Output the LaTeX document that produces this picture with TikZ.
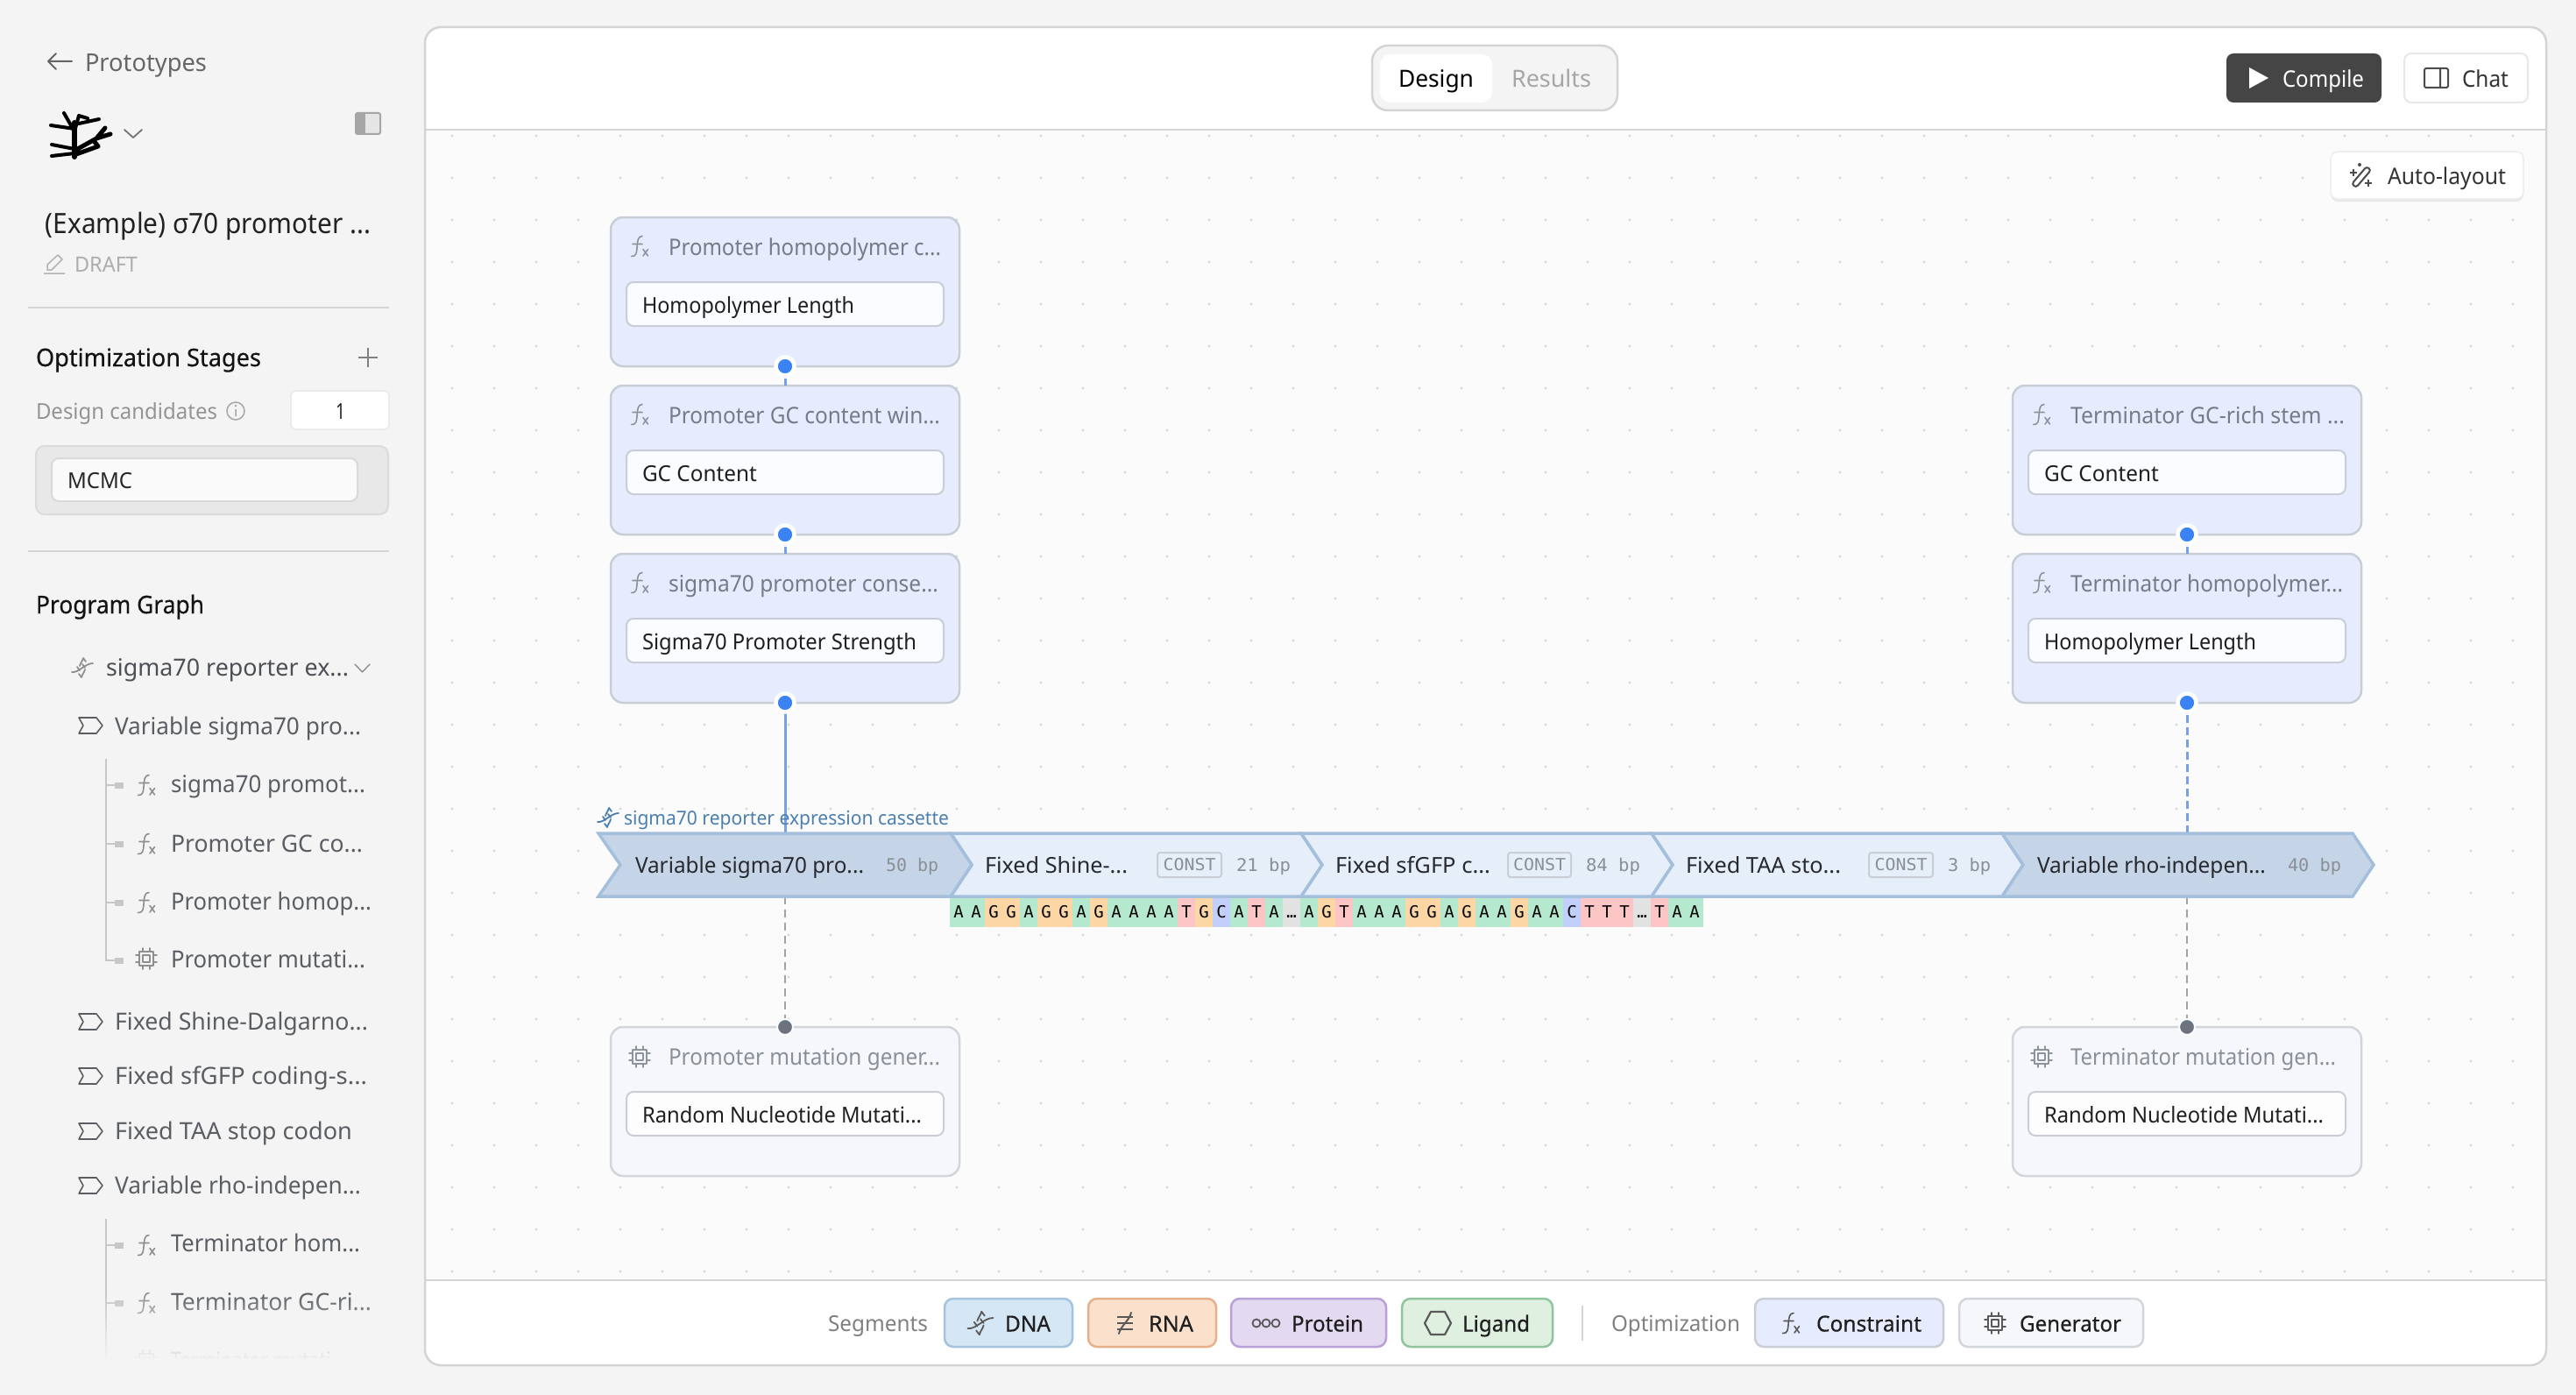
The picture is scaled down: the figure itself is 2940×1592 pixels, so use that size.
\documentclass[tikz,border=0pt]{standalone}
\usepackage{fontspec}
\usepackage{graphicx}
\usetikzlibrary{fadings}
\setmainfont{Noto Sans}
\newfontfamily\medf[FakeBold=0.35]{Noto Sans}
\newfontfamily\monof{DejaVu Sans Mono}
\newcommand\fs[1]{\fontsize{#1}{#1}\selectfont}
\definecolor{sidebar}{HTML}{F4F4F4}
\definecolor{canvasbg}{HTML}{FBFBFB}
\definecolor{linec}{HTML}{D3D5D5}
\definecolor{griddot}{HTML}{D6D8DB}
\definecolor{cardfill}{HTML}{E6ECFD}
\definecolor{cardline}{HTML}{C9CED6}
\definecolor{genfill}{HTML}{F5F7FA}
\definecolor{genline}{HTML}{D2D5D9}
\definecolor{headtxt}{HTML}{757C87}
\definecolor{icn}{HTML}{8E949C}
\definecolor{segline}{HTML}{A3BFDC}
\definecolor{varfill}{HTML}{C5D5E7}
\definecolor{fixfill}{HTML}{E6EEF9}
\definecolor{monotxt}{HTML}{8A8F96}
\definecolor{segtxt}{HTML}{27292E}
\definecolor{caslabel}{HTML}{4A7FB0}
\definecolor{bluedot}{HTML}{3B82F6}
\definecolor{bluecn}{HTML}{76A1E6}
\definecolor{greydot}{HTML}{6B7280}
\definecolor{greycn}{HTML}{A0A3A8}
\definecolor{seqA}{HTML}{B4E8CF}
\definecolor{seqG}{HTML}{FDD6A5}
\definecolor{seqT}{HTML}{FCC5C5}
\definecolor{seqC}{HTML}{C2CFFB}
\definecolor{seqD}{HTML}{E2E2E2}
\definecolor{treetxt}{HTML}{5A5E63}
\definecolor{treeic}{HTML}{8F8F8F}
\definecolor{dnaF}{HTML}{D5E6F4}
\definecolor{dnaL}{HTML}{A5C3DF}
\definecolor{rnaF}{HTML}{FBE1CC}
\definecolor{rnaL}{HTML}{E6B08A}
\definecolor{protF}{HTML}{E3D9F1}
\definecolor{protL}{HTML}{B9A0D6}
\definecolor{ligF}{HTML}{DFF0E1}
\definecolor{ligL}{HTML}{8FC49C}
\tikzset{
  boxbase/.style={inner sep=0pt,outer sep=0pt},
  card/.style={boxbase,rounded corners=14pt,fill=cardfill,draw=cardline,line width=2.5pt,minimum width=398pt,minimum height=170pt},
  gencard/.style={card,fill=genfill,draw=genline},
  field/.style={boxbase,rounded corners=8pt,fill=#1,draw=cardline,line width=2pt,minimum width=362pt,minimum height=50pt},
  constbox/.style={boxbase,rounded corners=3pt,draw=cardline,line width=2pt,minimum height=28pt,text=monotxt},
  segpoly/.style={draw=segline,line width=3.5pt,line join=miter,fill=#1},
  blueconn/.style={draw=bluecn,line width=3pt},
  bluedash/.style={blueconn,dash pattern=on 9pt off 5pt},
  greyconn/.style={draw=greycn,line width=2.5pt,dash pattern=on 9pt off 6pt},
  bluepoint/.style={circle,boxbase,fill=bluedot,draw=white,line width=4.5pt,minimum size=21pt},
  greypoint/.style={circle,boxbase,fill=greydot,draw=white,line width=2pt,minimum size=18pt},
  chip/.style={boxbase,rounded corners=10pt,line width=2.5pt},
  seqcell/.style={boxbase,minimum width=20.1pt,minimum height=33pt,text=black},
  tree/.style={draw=#1,line width=1.8pt,line cap=round,line join=round},
  tree/.default=treeic
}
% text fitted between x1 and x2: [baseline offset]{name}{x1}{x2}{yc}{colour}{font}{text}
\newcommand\tl[8][9.5]{\pgfmathsetmacro\tlw{#4-#3}%
  \node[anchor=base west,boxbase,text=#6,yshift=-#1pt] (#2) at (#3,#5) {\resizebox{\tlw pt}{\height}{#7#8}};}
% box from corners {name}{x1}{y1}{x2}{y2}{style}
\newcommand\rb[6]{\pgfmathsetmacro\rw{#4-#2}\pgfmathsetmacro\rh{#5-#3}%
  \node[boxbase,minimum width=\rw pt,minimum height=\rh pt,#6] (#1) at ({(#2+#4)/2},{(#3+#5)/2}) {};}
\newcommand\fxicon[3]{\begin{scope}[shift={(#1,#2)}]
  \draw[tree=#3,line width=1.6pt] (-9.5,11.5) .. controls (-4,12) and (-3.5,8) .. (-3,2) .. controls (-2.5,-6) and (-2,-11.5) .. (3,-11.5);
  \draw[tree=#3,line width=1.6pt] (-8,-2.5) -- (3,-2.5) (4,3.5) -- (9.5,11) (9.5,3.5) -- (4,11);
\end{scope}}
\newcommand\chipicon[3]{\begin{scope}[shift={(#1,#2)}]
  \draw[tree=#3] (-8,-8) rectangle (8,8) (-4,-4) rectangle (4,4);
  \draw[tree=#3] (-4,-8) -- (-4,-12) (4,-8) -- (4,-12) (-4,8) -- (-4,12) (4,8) -- (4,12)
    (-8,-4) -- (-12,-4) (-8,4) -- (-12,4) (8,-4) -- (12,-4) (8,4) -- (12,4);
\end{scope}}
\newcommand\segicon[2]{\begin{scope}[shift={(#1,#2)}]
  \draw[tree=treetxt,line width=1.6pt] (-13,-9) -- (7,-9) -- (14,0) -- (7,9) -- (-13,9) -- (-8,0) -- cycle;
\end{scope}}
\newcommand\dnaicon[3]{\begin{scope}[shift={(#1,#2)}]
  \draw[tree=#3] (-12,5) .. controls (-4,6) and (3,-5) .. (12,-5);
  \draw[tree=#3] (-3,-2) .. controls (-2,-6) and (0,-7) .. (1,-11) (1,-11) -- (4,-7);
  \draw[tree=#3] (3,2) .. controls (2,6) and (0,7) .. (-1,11) (-1,11) -- (-4,7);
  \draw[tree=#3] (-6,-1) -- (-3,3) (0,-4) -- (3,0);
\end{scope}}
\begin{document}
\begin{tikzpicture}[x=1pt,y=-1pt]
\useasboundingbox (0,0) rectangle (2940,1592);
\fill[sidebar] (0,0) rectangle (2940,1592);

%% main panel
\begin{scope}
  \clip[rounded corners=18pt] (485,31) rectangle (2906,1558);
  \fill[white] (485,31) rectangle (2906,1558);
  \fill[canvasbg] (485,148) rectangle (2906,1461);
  \fill[griddot] foreach \x in {516,564,...,2868} { foreach \y in {155,203,...,1451} { (\x,\y) circle (1.7pt) } };
\end{scope}
\draw[linec,line width=2.5pt] (485,148) -- (2906,148) (485,1461) -- (2906,1461);
\draw[linec,line width=2.5pt,rounded corners=18pt] (485,31) rectangle (2906,1558);

%% toggle
\rb{toggle}{1566}{52}{1846}{126}{rounded corners=18pt,fill=sidebar,draw=linec,line width=2.5pt}
\rb{designtab}{1575}{62}{1703}{117}{rounded corners=12pt,fill=white}
\tl[10]{designlbl}{1596}{1682}{90}{black}{\fs{27}}{Design}
\tl[10]{resultlbl}{1725}{1816}{90}{black!35}{\fs{27}}{Results}

%% compile / chat
\rb{compilebtn}{2541}{61}{2718}{117}{rounded corners=8pt,fill=black!73}
\fill[white] (2567,77) -- (2589,89) -- (2567,101) -- cycle;
\tl{compilelbl}{2605}{2698}{90}{white}{\fs{26}}{Compile}
\rb{chatbtn}{2744}{61}{2885}{117}{rounded corners=8pt,fill=white,draw=black!9,line width=2pt}
\draw[black!70,line width=2pt,rounded corners=2pt] (2767,78) rectangle (2794,100) (2785,78) -- (2785,100);
\tl{chatlbl}{2810}{2863}{90}{black!80}{\fs{26}}{Chat}

%% auto-layout
\rb{autoshadow}{2660}{175}{2880}{230}{rounded corners=8pt,fill=black!9}
\rb{autobtn}{2660}{173}{2880}{227}{rounded corners=8pt,fill=white,draw=black!7,line width=1.5pt}
\draw[black!70,line width=2pt,rounded corners=3pt] (2684,210) -- (2701,190) -- (2706,194) -- (2689,214) -- cycle;
\draw[black!70,line width=2pt] (2682,197) -- (2690,197) (2686,193) -- (2686,201) (2699,209) -- (2707,209) (2703,205) -- (2703,213);
\fill[black!70] (2693,188) circle (2pt);
\tl{autolbl}{2725}{2860}{201}{black!80}{\fs{26}}{Auto-layout}

%% sidebar header
\draw[black!60,line width=2pt,line cap=round,line join=round] (82,70) -- (55,70) (64,61) -- (55,70) -- (64,79);
\tl[11.5]{protolbl}{97}{236}{70}{black!60}{\fs{28}}{Prototypes}
% logo
\begin{scope}[black,line cap=round,line join=round]
  \draw[line width=6pt] (85,179) -- (85,140);
  \draw[line width=4pt] (85,150) -- (73,129) (85,147) -- (58,143) (85,150) -- (90,132) -- (100,135) (90,141) -- (113,136);
  \draw[line width=5pt] (85,172) -- (110,158) -- (126,153) (110,158) -- (120,146) (87,176) -- (112,167) (108,162) -- (112,167);
  \draw[line width=4pt] (85,170) -- (59,165) (85,175) -- (59,178);
\end{scope}
\draw[black!55,line width=1.8pt,line cap=round,line join=round] (142,148) -- (152,157) -- (162,148);
\rb{sidetoggle}{406}{129}{434}{153}{rounded corners=2pt,draw=black!35,fill=white!90!black,line width=2pt}
\fill[black!35] (406,129) rectangle (417,153);
\tl[11.5]{titlelbl}{52}{423}{255}{black!87}{\fs{32}}{(Example) σ70 promoter ...}
\draw[black!30,line width=1.5pt,line join=round] (50,312) -- (74,312) (54,308) -- (54,302) -- (66,291) -- (71,296) -- (59,308) -- cycle;
\tl[8.5]{draftlbl}{85}{157}{302}{black!32}{\fs{24}}{DRAFT}
\draw[linec,line width=2pt] (32,351) -- (444,351) (32,629) -- (444,629);

%% stages
\tl[10]{optstages}{41}{298}{408}{black!92}{\medf\fs{28}}{Optimization Stages}
\draw[black!50,line width=1.8pt] (409,408) -- (431,408) (420,397) -- (420,419);
\tl[9]{designcand}{41}{248}{469}{black!42}{\fs{25}}{Design candidates}
\draw[black!35,line width=1.5pt] (269,469) circle (10pt) (269,467) -- (269,475);
\fill[black!35] (269,463) circle (1.3pt);
\rb{candbox}{332}{446}{444}{490}{rounded corners=6pt,fill=white,draw=black!9,line width=1.5pt}
\tl[9]{candval}{383}{394}{469}{black!85}{\fs{25}}{1}
\rb{stagebox}{41}{509}{443}{587}{rounded corners=10pt,fill=black!9,draw=black!14,line width=2pt}
\rb{mcmcbox}{59}{523}{408}{572}{rounded corners=8pt,fill=white!98!black,draw=black!15,line width=2pt}
\tl{mcmclbl}{77}{151}{548}{black!85}{\fs{25}}{MCMC}
\tl[10]{proggraph}{41}{233}{690}{black!92}{\medf\fs{28}}{Program Graph}

%% program graph tree
\dnaicon{94}{762}{treeic}
\tl[11]{t0}{121}{398}{760}{treetxt!85!black}{\fs{27}}{sigma70 reporter ex...}
\draw[tree=treeic,line width=1.4pt] (405,758) -- (413.5,767) -- (422,758);
\draw[black!22,line width=2pt] (120.5,866) -- (120.5,1096) -- (131,1096);
\foreach \yy in {896,963,1030} {\draw[black!22,line width=2pt] (120.5,\yy) -- (131,\yy);}
\foreach \yy in {896,963,1030,1096} {\fill[black!22] (131,\yy-3.5) rectangle (141,\yy+3.5);}
\draw[black!22,line width=2pt] (120.5,1391) -- (120.5,1575);
\foreach \yy in {1421,1487,1553} {\draw[black!22,line width=2pt] (120.5,\yy) -- (131,\yy); \fill[black!22] (131,\yy-3.5) rectangle (141,\yy+3.5);}
\segicon{103}{828}
\tl[10.5]{t1}{131}{412}{828}{treetxt}{\fs{27}}{Variable sigma70 pro...}
\fxicon{167}{896}{treeic}
\tl[10.5]{t2}{195}{417}{894}{treetxt}{\fs{27}}{sigma70 promot...}
\fxicon{167}{963}{treeic}
\tl[11]{t3}{195}{414}{961}{treetxt}{\fs{27}}{Promoter GC co...}
\fxicon{167}{1030}{treeic}
\tl[10.5]{t4}{195}{424}{1028}{treetxt}{\fs{27}}{Promoter homop...}
\chipicon{167}{1094}{treeic}
\tl[10.5]{t5}{195}{417}{1094}{treetxt}{\fs{27}}{Promoter mutati...}
\segicon{103}{1166}
\tl{t6}{131}{420}{1166}{treetxt}{\fs{27}}{Fixed Shine-Dalgarno...}
\segicon{103}{1228}
\tl{t7}{131}{419}{1228}{treetxt}{\fs{27}}{Fixed sfGFP coding-s...}
\segicon{103}{1291}
\tl{t8}{131}{402}{1291}{treetxt}{\fs{27}}{Fixed TAA stop codon}
\segicon{103}{1353}
\tl{t9}{131}{412}{1353}{treetxt}{\fs{27}}{Variable rho-indepen...}
\fxicon{167}{1421}{treeic}
\tl{t10}{195}{411}{1419}{treetxt}{\fs{27}}{Terminator hom...}
\fxicon{167}{1487}{treeic}
\tl{t11}{195}{424}{1486}{treetxt}{\fs{27}}{Terminator GC-ri...}
\chipicon{167}{1553}{treeic}
\tl{t12}{195}{395}{1553}{treetxt}{\fs{27}}{Terminator mutati...}
\fill[sidebar,path fading=north] (40,1475) rectangle (470,1552);
\fill[sidebar] (40,1551) rectangle (470,1592);

%% cards
\node[card] (c1) at (896,333) {};
\node[card] (c2) at (896,525) {};
\node[card] (c3) at (896,717) {};
\node[card] (c4) at (2496,525) {};
\node[card] (c5) at (2496,717) {};
\node[gencard] (g1) at (896,1257) {};
\node[gencard] (g2) at (2496,1257) {};

%% sequence cassette: coordinates where connectors meet it
\coordinate (s1top) at (896,951);
\coordinate (s1bot) at (896,1023);
\coordinate (s5top) at (2496,951);
\coordinate (s5bot) at (2496,1023);

%% connectors
\draw[bluedash] (c1.south) -- (c2.north);
\draw[bluedash] (c2.south) -- (c3.north);
\draw[blueconn] (c3.south) -- (s1top);
\draw[bluedash] (c4.south) -- (c5.north);
\draw[bluedash] (c5.south) -- (s5top);
\draw[greyconn] (s1bot) -- (g1.north);
\draw[greyconn] (s5bot) -- (g2.north);

%% card contents
\fxicon{730}{281}{icn}
\tl{h1}{763}{1074}{282}{headtxt}{\fs{26}}{Promoter homopolymer c...}
\node[field=white!85!cardfill] (f1) at (896,347) {};
\tl{i1}{733}{975}{348}{black!88}{\fs{25}}{Homopolymer Length}
\fxicon{730}{473}{icn}
\tl{h2}{763}{1073}{474}{headtxt}{\fs{26}}{Promoter GC content win...}
\node[field=white!85!cardfill] (f2) at (896,539) {};
\tl{i2}{733}{864}{540}{black!88}{\fs{25}}{GC Content}
\fxicon{730}{665}{icn}
\tl{h3}{763}{1071}{666}{headtxt}{\fs{26}}{sigma70 promoter conse...}
\node[field=white!85!cardfill] (f3) at (896,731) {};
\tl{i3}{733}{1046}{732}{black!88}{\fs{25}}{Sigma70 Promoter Strength}
\fxicon{2330}{473}{icn}
\tl{h4}{2363}{2676}{474}{headtxt}{\fs{26}}{Terminator GC-rich stem ...}
\node[field=white!85!cardfill] (f4) at (2496,539) {};
\tl{i4}{2333}{2464}{540}{black!88}{\fs{25}}{GC Content}
\fxicon{2330}{665}{icn}
\tl{h5}{2363}{2674}{666}{headtxt}{\fs{26}}{Terminator homopolymer...}
\node[field=white!85!cardfill] (f5) at (2496,731) {};
\tl{i5}{2333}{2575}{732}{black!88}{\fs{25}}{Homopolymer Length}
\chipicon{730}{1206}{icn}
\tl{h6}{763}{1073}{1206}{headtxt!85!white}{\fs{26}}{Promoter mutation gener...}
\node[field=white!80!genfill] (f6) at (896,1271) {};
\tl{i6}{733}{1052}{1272}{black!88}{\fs{25}}{Random Nucleotide Mutati...}
\chipicon{2330}{1206}{icn}
\tl{h7}{2363}{2666}{1206}{headtxt!85!white}{\fs{26}}{Terminator mutation gen...}
\node[field=white!80!genfill] (f7) at (2496,1271) {};
\tl{i7}{2333}{2652}{1272}{black!88}{\fs{25}}{Random Nucleotide Mutati...}

%% cassette segments
\draw[segpoly=fixfill] (1085,951) -- (1485,951) -- (1509,987) -- (1485,1023) -- (1085,1023) -- (1109,987) -- cycle;
\draw[segpoly=fixfill] (1485,951) -- (1885,951) -- (1909,987) -- (1885,1023) -- (1485,1023) -- (1509,987) -- cycle;
\draw[segpoly=fixfill] (1885,951) -- (2285,951) -- (2309,987) -- (2285,1023) -- (1885,1023) -- (1909,987) -- cycle;
\draw[segpoly=varfill] (683,951) -- (1085,951) -- (1109,987) -- (1085,1023) -- (683,1023) -- (708,987) -- cycle;
\draw[segpoly=varfill] (2285,951) -- (2685,951) -- (2709,987) -- (2685,1023) -- (2285,1023) -- (2309,987) -- cycle;

\tl{sg1}{725}{986}{987}{segtxt}{\fs{25}}{Variable sigma70 pro...}
\tl[7]{bp1}{1011}{1071}{987}{monotxt}{\monof\fs{20}}{50 bp}
\tl{sg2}{1124}{1287}{987}{segtxt}{\fs{25}}{Fixed Shine-...}
\tl[7]{bp2}{1411}{1473}{987}{monotxt}{\monof\fs{20}}{21 bp}
\tl{sg3}{1524}{1701}{987}{segtxt}{\fs{25}}{Fixed sfGFP c...}
\tl[7]{bp3}{1810}{1872}{987}{monotxt}{\monof\fs{20}}{84 bp}
\tl{sg4}{1924}{2101}{987}{segtxt}{\fs{25}}{Fixed TAA sto...}
\tl[7]{bp4}{2223}{2272}{987}{monotxt}{\monof\fs{20}}{3 bp}
\tl{sg5}{2325}{2586}{987}{segtxt}{\fs{25}}{Variable rho-indepen...}
\tl[7]{bp5}{2611}{2672}{987}{monotxt}{\monof\fs{20}}{40 bp}
\node[constbox,minimum width=73pt] (k1) at (1357.5,987) {\monof\fs{19}\resizebox{60pt}{\height}{CONST}};
\node[constbox,minimum width=72pt] (k2) at (1757,987) {\monof\fs{19}\resizebox{60pt}{\height}{CONST}};
\node[constbox,minimum width=73pt] (k3) at (2169.5,987) {\monof\fs{19}\resizebox{60pt}{\height}{CONST}};

%% cassette label
\dnaicon{694}{933}{caslabel}
\tl[7.5]{caslbl}{712}{1083}{934}{caslabel}{\fs{22}}{sigma70 reporter expression cassette}

%% sequence strip
\foreach \sq [count=\i from 0] in {A,A,G,G,A,G,G,A,G,A,A,A,A,T,G,C,A,T,A,D,A,G,T,A,A,A,G,G,A,G,A,A,G,A,A,C,T,T,T,D,T,A,A} {
  \pgfmathsetmacro\xx{1094+20*\i}
  \node[seqcell,fill=seq\sq] (cell\i) at (\xx,1041) {\monof\fs{19}\vphantom{A}\if D\sq …\else\sq\fi};
}

%% connection points
\node[bluepoint] (p1) at (c1.south) {};
\node[bluepoint] (p2) at (c2.south) {};
\node[bluepoint] (p3) at (c3.south) {};
\node[bluepoint] (p4) at (c4.south) {};
\node[bluepoint] (p5) at (c5.south) {};
\node[greypoint] (p6) at (g1.north) {};
\node[greypoint] (p7) at (g2.north) {};

%% footer legend
\tl{segs}{945}{1059}{1510}{black!50}{\fs{25}}{Segments}
\rb{dnachip}{1078}{1482}{1224}{1537}{chip,fill=dnaF,draw=dnaL}
\begin{scope}[shift={(1119,1510)},scale=1.2]\dnaicon{0}{0}{black!65}\end{scope}
\tl{dnal}{1147}{1199}{1510}{black!88}{\medf\fs{25}}{DNA}
\rb{rnachip}{1242}{1482}{1388}{1537}{chip,fill=rnaF,draw=rnaL}
\begin{scope}[shift={(1284,1510)}]
  \draw[black!65,line width=2pt] (-9,-7) -- (9,-7) (-9,0) -- (9,0) (-9,7) -- (9,7);
  \draw[black!65,line width=2pt,line cap=round] (7,-12) .. controls (5,-3) and (-5,3) .. (-7,12);
\end{scope}
\tl{rnal}{1311}{1362}{1510}{black!88}{\medf\fs{25}}{RNA}
\rb{protchip}{1405}{1482}{1582}{1537}{chip,fill=protF,draw=protL}
\draw[black!65,line width=1.8pt] (1434,1510) circle (4.5pt) (1445,1510) circle (4.5pt) (1456,1510) circle (4.5pt);
\tl{protl}{1474}{1556}{1510}{black!88}{\medf\fs{25}}{Protein}
\rb{ligchip}{1600}{1482}{1772}{1537}{chip,fill=ligF,draw=ligL}
\draw[black!65,line width=2.2pt,line join=round] (1626,1510) -- (1633,1497) -- (1649,1497) -- (1656,1510) -- (1649,1523) -- (1633,1523) -- cycle;
\tl{ligl}{1669}{1746}{1510}{black!88}{\medf\fs{25}}{Ligand}
\draw[linec,line width=2pt] (1806,1490) -- (1806,1530);
\tl{optl}{1839}{1986}{1510}{black!50}{\fs{25}}{Optimization}
\rb{conschip}{2003}{1482}{2218}{1537}{chip,fill=cardfill,draw=cardline}
\fxicon{2044}{1510}{black!65}
\tl{consl}{2073}{2193}{1510}{black!88}{\medf\fs{25}}{Constraint}
\rb{genchip}{2236}{1482}{2446}{1537}{chip,fill=genfill,draw=genline}
\chipicon{2277}{1510}{black!65}
\tl{genl}{2305}{2421}{1510}{black!88}{\medf\fs{25}}{Generator}
\end{tikzpicture}
\end{document}
